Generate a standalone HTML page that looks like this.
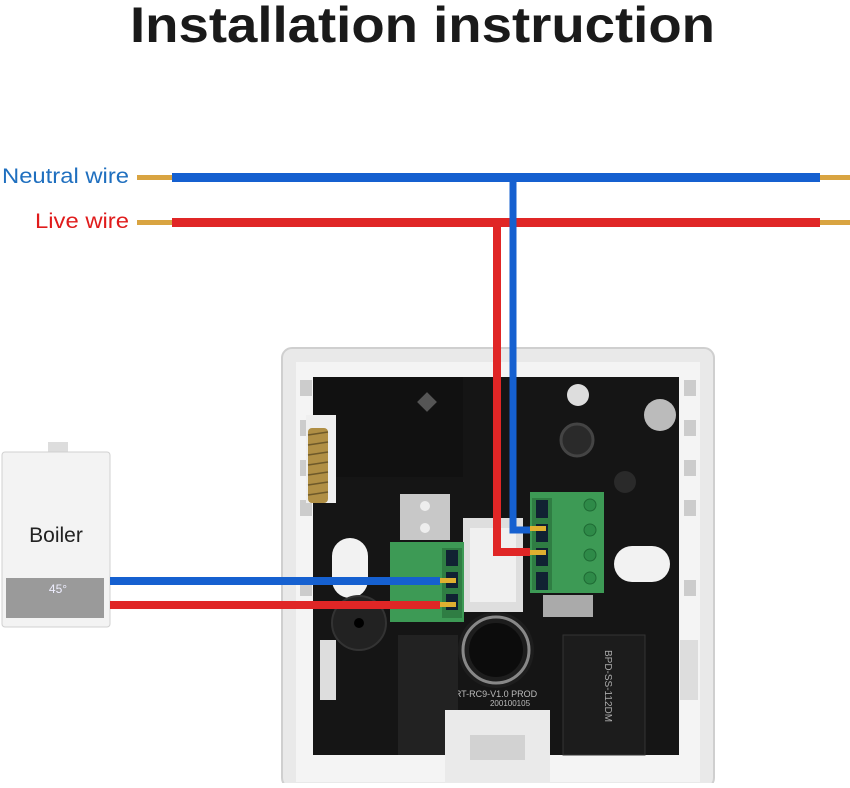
<!DOCTYPE html>
<html><head><style>
body{margin:0;background:#fff;width:850px;height:783px;overflow:hidden;font-family:"Liberation Sans",sans-serif}
</style></head><body>
<svg width="850" height="783" viewBox="0 0 850 783" xmlns="http://www.w3.org/2000/svg">
<text x="130" y="42" textLength="585" lengthAdjust="spacingAndGlyphs" font-family="Liberation Sans" font-weight="bold" font-size="50" fill="#1a1a1a">Installation instruction</text>
<text x="2" y="183" textLength="127" lengthAdjust="spacingAndGlyphs" font-size="21" fill="#1f6fbf">Neutral wire</text>
<text x="35" y="228" textLength="94" lengthAdjust="spacingAndGlyphs" font-size="21" fill="#e01b1b">Live wire</text>
<!-- copper ends -->
<rect x="137" y="175" width="36" height="5" fill="#d9a441"/>
<rect x="137" y="220" width="36" height="5" fill="#d9a441"/>
<rect x="818" y="175" width="32" height="5" fill="#d9a441"/>
<rect x="818" y="220" width="32" height="5" fill="#d9a441"/>
<!-- device frame -->
<rect x="282" y="348" width="432" height="440" rx="10" fill="#e9e9e9" stroke="#cfcfcf" stroke-width="2"/>
<rect x="296" y="362" width="404" height="420" fill="#f4f4f4"/>
<rect x="313" y="377" width="366" height="378" fill="#151515"/>
<rect x="313" y="377" width="150" height="100" fill="#111"/>
<g fill="#ccc">
<rect x="300" y="380" width="12" height="16"/><rect x="300" y="420" width="12" height="16"/><rect x="300" y="460" width="12" height="16"/><rect x="300" y="500" width="12" height="16"/>
<rect x="684" y="380" width="12" height="16"/><rect x="684" y="420" width="12" height="16"/><rect x="684" y="460" width="12" height="16"/><rect x="684" y="500" width="12" height="16"/>
<rect x="684" y="580" width="12" height="16"/><rect x="300" y="580" width="12" height="16"/>
</g>
<rect x="306" y="415" width="30" height="88" fill="#efefef"/>
<rect x="308" y="428" width="20" height="75" rx="4" fill="#b08f45"/>
<g stroke="#6f5a2a" stroke-width="1.5"><line x1="308" y1="435" x2="328" y2="432"/><line x1="308" y1="445" x2="328" y2="442"/><line x1="308" y1="455" x2="328" y2="452"/><line x1="308" y1="465" x2="328" y2="462"/><line x1="308" y1="475" x2="328" y2="472"/><line x1="308" y1="485" x2="328" y2="482"/><line x1="308" y1="495" x2="328" y2="492"/></g>
<rect x="332" y="538" width="36" height="60" rx="18" fill="#f2f2f2"/>
<rect x="614" y="546" width="56" height="36" rx="18" fill="#f2f2f2"/>
<rect x="400" y="494" width="50" height="46" fill="#c8c8c8"/>
<circle cx="425" cy="506" r="5" fill="#eee"/><circle cx="425" cy="528" r="5" fill="#eee"/>
<rect x="463" y="518" width="60" height="94" fill="#dedede"/>
<rect x="470" y="528" width="46" height="74" fill="#f0f0f0"/>
<circle cx="578" cy="395" r="11" fill="#ddd"/>
<circle cx="577" cy="440" r="16" fill="#2a2a2a" stroke="#444" stroke-width="3"/>
<circle cx="660" cy="415" r="16" fill="#bbb"/>
<circle cx="625" cy="482" r="11" fill="#2a2a2a"/>
<rect x="420" y="395" width="14" height="14" fill="#555" transform="rotate(45 427 402)"/>
<rect x="390" y="542" width="74" height="80" fill="#3d9a55"/>
<rect x="442" y="548" width="20" height="70" fill="#2f7d43"/>
<rect x="446" y="550" width="12" height="16" fill="#123"/><rect x="446" y="572" width="12" height="16" fill="#123"/><rect x="446" y="594" width="12" height="16" fill="#123"/>
<rect x="530" y="492" width="74" height="101" fill="#3d9a55"/>
<rect x="532" y="498" width="20" height="92" fill="#2f7d43"/>
<rect x="536" y="500" width="12" height="18" fill="#123"/><rect x="536" y="524" width="12" height="18" fill="#123"/><rect x="536" y="548" width="12" height="18" fill="#123"/><rect x="536" y="572" width="12" height="18" fill="#123"/>
<g fill="#2e8a48" stroke="#1e6a34"><circle cx="590" cy="505" r="6"/><circle cx="590" cy="530" r="6"/><circle cx="590" cy="555" r="6"/><circle cx="590" cy="578" r="6"/></g>
<rect x="543" y="595" width="50" height="22" fill="#aaa"/>
<circle cx="359" cy="623" r="27" fill="#222" stroke="#333" stroke-width="2"/>
<circle cx="359" cy="623" r="5" fill="#000"/>
<circle cx="496" cy="650" r="38" fill="#1d1d1d"/>
<circle cx="496" cy="650" r="33" fill="none" stroke="#888" stroke-width="3"/>
<circle cx="496" cy="650" r="27" fill="#0c0c0c"/>
<text x="496" y="697" text-anchor="middle" font-size="9" fill="#bbb">RT-RC9-V1.0 PROD</text>
<text x="510" y="706" text-anchor="middle" font-size="8" fill="#bbb">200100105</text>
<rect x="398" y="635" width="60" height="120" fill="#222"/>
<rect x="563" y="635" width="82" height="120" fill="#1c1c1c" stroke="#333"/>
<text x="605" y="650" font-size="10" fill="#aaa" transform="rotate(90 605 650)">BPD-SS-112DM</text>
<rect x="445" y="710" width="105" height="73" fill="#eaeaea"/>
<rect x="470" y="735" width="55" height="25" fill="#d2d2d2"/>
<rect x="680" y="640" width="18" height="60" fill="#ddd"/>
<rect x="320" y="640" width="16" height="60" fill="#ddd"/>
<rect x="172" y="173" width="648" height="9" fill="#1560d0"/>
<rect x="172" y="218" width="648" height="9" fill="#e02626"/>
<path d="M497 222 V552 H530" fill="none" stroke="#e02626" stroke-width="8"/>
<path d="M513 178 V530 H530" fill="none" stroke="#1560d0" stroke-width="7"/>
<rect x="530" y="526" width="16" height="5" fill="#e0b030"/>
<rect x="530" y="550" width="16" height="5" fill="#e0b030"/>
<rect x="48" y="442" width="20" height="10" fill="#ddd"/>
<rect x="2" y="452" width="108" height="175" rx="3" fill="#f3f3f3" stroke="#d0d0d0"/>
<rect x="6" y="578" width="98" height="40" fill="#9a9a9a"/>
<text x="58" y="593" text-anchor="middle" font-size="12" fill="#eef">45°</text>
<text x="56" y="542" text-anchor="middle" font-size="21" fill="#222">Boiler</text>
<rect x="110" y="577" width="330" height="8" fill="#1560d0"/>
<rect x="110" y="601" width="330" height="8" fill="#e02626"/>
<rect x="440" y="578" width="16" height="5" fill="#e0b030"/>
<rect x="440" y="602" width="16" height="5" fill="#e0b030"/>
</svg>
</body></html>
